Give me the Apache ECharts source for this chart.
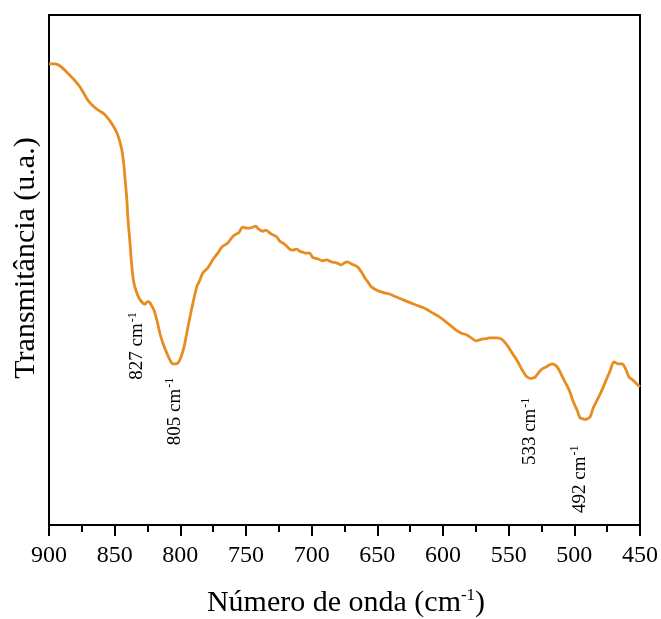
<!DOCTYPE html>
<html>
<head>
<meta charset="utf-8">
<script src="https://cdn.jsdelivr.net/npm/echarts@6/dist/echarts.min.js"></script>
<style>
  html, body { margin: 0; padding: 0; background: #fff; }
  #chart { width: 661px; height: 619px; }
</style>
</head>
<body>
<div id="chart"></div>
<script>
// FTIR spectrum, 900–450 cm-1
const wavenumber = [
  900.0, 895.4, 891.6, 885.6, 880.2, 876.4, 870.4, 866.6, 862.8, 859.0,
  855.2, 851.4, 848.3, 846.0, 844.5, 843.0, 842.2, 840.7, 840.0, 838.4,
  836.9, 835.4, 833.1, 830.8, 828.5, 827.0, 825.5, 824.0, 822.5, 820.2,
  817.9, 815.6, 813.3, 810.3, 808.0, 805.7, 803.5, 800.4, 797.4, 795.1,
  792.8, 791.3, 789.0, 787.5, 785.2, 782.9, 779.1, 775.3, 771.5, 768.3,
  763.9, 760.9, 758.6, 755.6, 752.5, 749.5, 747.2, 744.9, 742.6, 740.4,
  737.3, 735.0, 732.0, 729.7, 726.7, 724.4, 722.1, 719.1, 716.8, 714.5,
  711.5, 709.2, 706.9, 704.6, 701.6, 699.3, 695.5, 691.7, 688.7, 684.9,
  681.1, 677.3, 675.0, 672.7, 669.7, 665.1, 662.1, 659.8, 656.8, 654.5,
  650.7, 646.9, 644.6, 640.8, 635.5, 631.7, 627.9, 624.1, 620.3, 615.7,
  611.9, 608.1, 602.8, 597.5, 593.7, 589.9, 586.1, 582.3, 578.5, 574.7,
  572.4, 569.3, 567.1, 564.8, 562.5, 559.5, 555.7, 551.9, 547.3, 543.5,
  539.7, 536.7, 534.4, 533.0, 532.1, 529.8, 526.8, 524.5, 521.5, 516.9,
  513.8, 511.6, 507.8, 504.0, 501.0, 497.9, 495.6, 493.3, 492.0, 490.3,
  488.0, 485.7, 483.4, 479.6, 475.8, 472.8, 469.8, 466.7, 463.7, 460.6,
  458.4, 455.3, 453.0, 450.0
];
const transmittance = [
  90.4, 90.4, 90.0, 88.6, 87.1, 85.9, 83.3, 82.2, 81.4, 80.8,
  79.8, 78.4, 76.9, 75.1, 73.5, 70.6, 68.2, 63.7, 60.4, 55.5,
  50.6, 47.5, 45.5, 44.2, 43.5, 43.3, 43.7, 43.8, 43.3, 42.2,
  40.2, 37.6, 35.7, 33.7, 32.4, 31.6, 31.6, 32.4, 34.7, 37.6,
  40.6, 42.5, 45.1, 46.7, 48.0, 49.4, 50.4, 52.0, 53.3, 54.5,
  55.3, 56.3, 56.9, 57.3, 58.4, 58.2, 58.2, 58.4, 58.6, 58.0,
  57.6, 57.8, 57.3, 56.9, 56.5, 55.7, 55.3, 54.7, 54.1, 53.9,
  54.1, 53.7, 53.5, 53.3, 53.3, 52.5, 52.2, 51.8, 52.0, 51.6,
  51.4, 51.0, 51.4, 51.6, 51.2, 50.6, 49.6, 48.6, 47.5, 46.7,
  46.1, 45.7, 45.5, 45.3, 44.7, 44.3, 43.9, 43.5, 43.1, 42.7,
  42.2, 41.6, 40.8, 39.8, 39.0, 38.2, 37.6, 37.3, 36.7, 36.1,
  36.3, 36.5, 36.5, 36.7, 36.7, 36.7, 36.5, 35.5, 33.7, 32.2,
  30.4, 29.2, 28.8, 28.7, 28.8, 29.0, 30.0, 30.6, 31.0, 31.6,
  31.2, 30.4, 28.4, 26.5, 24.3, 22.5, 21.0, 20.8, 20.7, 20.8,
  21.2, 22.9, 24.1, 26.1, 28.4, 30.2, 32.0, 31.6, 31.6, 30.4,
  29.0, 28.4, 27.8, 27.1
];
// Assigned band positions (cm-1)
const peakBands = [827, 805, 533, 492];
const xTicks = [900, 850, 800, 750, 700, 650, 600, 550, 500, 450];

const SERIF = '"Liberation Serif", "Times New Roman", serif';
const LINE_COLOR = '#E88C1F';

const chart = echarts.init(document.getElementById('chart'), null, { renderer: 'canvas' });

const seriesData = wavenumber.map((w, i) => [w, transmittance[i]]);

chart.setOption({
  animation: false,
  backgroundColor: '#ffffff',
  grid: {
    left: 49, right: 20, top: 15, bottom: 94,
    show: true, borderColor: '#000', borderWidth: 2, backgroundColor: 'transparent'
  },
  xAxis: {
    type: 'value',
    inverse: true,
    min: xTicks[xTicks.length - 1],
    max: xTicks[0],
    interval: 50,
    axisLine: { show: true, lineStyle: { color: '#000', width: 2 } },
    axisTick: { show: true, inside: false, length: 11, lineStyle: { color: '#000', width: 2 } },
    minorTick: { show: true, splitNumber: 2, length: 7, lineStyle: { color: '#000', width: 2 } },
    splitLine: { show: false },
    minorSplitLine: { show: false },
    axisLabel: { color: '#000', fontFamily: SERIF, fontSize: 24, margin: 19 }
  },
  yAxis: {
    type: 'value',
    min: 0, max: 100,
    axisLine: { show: true, lineStyle: { color: '#000', width: 2 } },
    axisTick: { show: false },
    axisLabel: { show: false },
    splitLine: { show: false }
  },
  series: [{
    type: 'line',
    data: seriesData,
    showSymbol: false,
    smooth: 0.3,
    lineStyle: { color: LINE_COLOR, width: 2.8 },
    z: 3
  }]
});

// Band labels, placed under the curve at each assigned wavenumber
const labelNudge = { 827: [-8, 8], 805: [1, 14], 533: [-1, 19], 492: [-5, 26] };
function curveAt(w) {
  let best = 0;
  for (let i = 1; i < wavenumber.length; i++) {
    if (Math.abs(wavenumber[i] - w) < Math.abs(wavenumber[best] - w)) best = i;
  }
  return transmittance[best];
}
const rich = {
  n: { fontFamily: SERIF, fontSize: 19, fill: '#000', lineHeight: 21 },
  s: { fontFamily: SERIF, fontSize: 12, fill: '#000', verticalAlign: 'top', lineHeight: 21, padding: [0, 0, 0, 1] }
};
const graphics = peakBands.map(b => {
  const p = chart.convertToPixel({ gridIndex: 0 }, [b, curveAt(b)]);
  const nd = labelNudge[b];
  return {
    type: 'text',
    x: p[0] + nd[0],
    y: p[1] + nd[1],
    rotation: Math.PI / 2,
    style: {
      text: '{n|' + b + ' cm}{s|-1}',
      rich: rich,
      align: 'right',
      verticalAlign: 'middle'
    },
    z: 10
  };
});

// Axis titles
graphics.push({
  type: 'text',
  x: 26, y: 258,
  rotation: Math.PI / 2,
  style: {
    text: 'Transmitância (u.a.)',
    fontFamily: SERIF, fontSize: 30, fill: '#000',
    align: 'center', verticalAlign: 'middle'
  }
});
graphics.push({
  type: 'text',
  x: 346, y: 603,
  style: {
    text: '{n|Número de onda (cm}{s|-1}{n|)}',
    rich: {
      n: { fontFamily: SERIF, fontSize: 30, fill: '#000', lineHeight: 32 },
      s: { fontFamily: SERIF, fontSize: 17, fill: '#000', verticalAlign: 'top', lineHeight: 32 }
    },
    align: 'center', verticalAlign: 'middle'
  }
});

chart.setOption({ graphic: graphics });
</script>
</body>
</html>
